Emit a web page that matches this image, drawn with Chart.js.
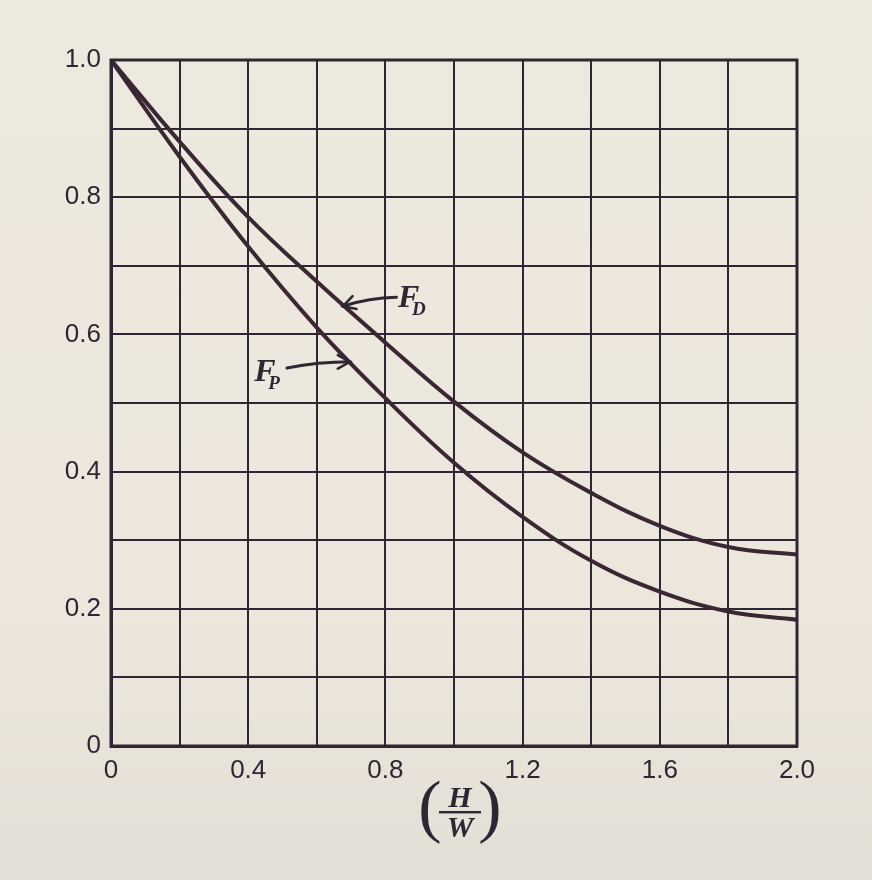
<!DOCTYPE html>
<html>
<head>
<meta charset="utf-8">
<script src="https://cdn.jsdelivr.net/npm/chart.js@4.4.0/dist/chart.umd.min.js"></script>
<style>
  html, body { margin: 0; padding: 0; }
  body { width: 872px; height: 880px; background: linear-gradient(180deg, #eee9df 0%, #ece6dc 70%, #e4dfd6 100%); overflow: hidden; }
  #wrap { position: relative; width: 872px; height: 880px; }
</style>
</head>
<body>
<div id="wrap"><canvas id="c" width="872" height="880"></canvas></div>
<script>
// ---- data ----
const hwRatio = [0, 0.2, 0.4, 0.6, 0.8, 1.0, 1.2, 1.4, 1.6, 1.8, 2.0];
const fD = [1.0, 0.881, 0.771, 0.677, 0.588, 0.502, 0.428, 0.369, 0.321, 0.290, 0.279];
const fP = [1.0, 0.859, 0.728, 0.610, 0.507, 0.413, 0.334, 0.270, 0.225, 0.196, 0.184];
const xTickLabels = ['0', '0.4', '0.8', '1.2', '1.6', '2.0'];
const yTickLabels = ['0', '0.2', '0.4', '0.6', '0.8', '1.0'];
const seriesNames = ['F_D', 'F_P'];

const INK = '#2f2634';
const CURVE = '#3a2732';

const toPts = (xs, ys) => xs.map((x, i) => ({ x: x, y: ys[i] }));

function fmtX(v) {
  const r = Math.round(v * 10) / 10;
  const idx = xTickLabels.indexOf(r === 0 ? '0' : r.toFixed(1));
  return idx >= 0 ? xTickLabels[idx] : '';
}
function fmtY(v) {
  const r = Math.round(v * 10) / 10;
  const idx = yTickLabels.indexOf(r === 0 ? '0' : r.toFixed(1));
  return idx >= 0 ? yTickLabels[idx] : '';
}

// annotation labels with arrows (data coordinates)
const annos = [
  { main: 'F', sub: 'D', lx: 0.837, ly: 0.640, tail: [0.832, 0.654], tip: [0.676, 0.641], bend: 4 },
  { main: 'F', sub: 'P', lx: 0.418, ly: 0.532, tail: [0.513, 0.551], tip: [0.697, 0.560], bend: 3 }
];

const decor = {
  id: 'decor',
  afterDatasetsDraw(chart) {
    const ctx = chart.ctx;
    const a = chart.chartArea;
    const xs = chart.scales.x, ys = chart.scales.y;
    ctx.save();
    // frame
    ctx.strokeStyle = INK;
    ctx.lineWidth = 3;
    ctx.strokeRect(a.left, a.top, a.right - a.left, a.bottom - a.top);

    // annotations
    annos.forEach(an => {
      const lx = xs.getPixelForValue(an.lx), ly = ys.getPixelForValue(an.ly);
      ctx.fillStyle = INK;
      ctx.textBaseline = 'alphabetic';
      ctx.textAlign = 'left';
      ctx.font = 'italic bold 32px "Liberation Serif"';
      ctx.fillText(an.main, lx, ly);
      ctx.font = 'italic bold 19px "Liberation Serif"';
      ctx.fillText(an.sub, lx + 14, ly + 8);

      const tx = xs.getPixelForValue(an.tail[0]), ty = ys.getPixelForValue(an.tail[1]);
      const px = xs.getPixelForValue(an.tip[0]), py = ys.getPixelForValue(an.tip[1]);
      const mx = (tx + px) / 2, my = (ty + py) / 2 - an.bend;
      ctx.strokeStyle = INK;
      ctx.lineWidth = 3;
      ctx.lineCap = 'round';
      ctx.beginPath();
      ctx.moveTo(tx, ty);
      ctx.quadraticCurveTo(mx, my, px, py);
      ctx.stroke();
      // arrowhead
      const ang = Math.atan2(py - my, px - mx);
      const L = 14, spread = 0.5;
      ctx.lineWidth = 2.5;
      ctx.beginPath();
      ctx.moveTo(px - L * Math.cos(ang - spread), py - L * Math.sin(ang - spread));
      ctx.lineTo(px, py);
      ctx.lineTo(px - L * Math.cos(ang + spread), py - L * Math.sin(ang + spread));
      ctx.stroke();
    });

    // x-axis title (H/W)
    const cx = xs.getPixelForValue(1.0) + 6;
    const barY = a.bottom + 66;
    ctx.fillStyle = INK;
    ctx.textAlign = 'center';
    ctx.textBaseline = 'alphabetic';
    ctx.font = 'italic bold 30px "Liberation Serif"';
    ctx.fillText('H', cx, barY - 5);
    ctx.fillText('W', cx, barY + 25);
    ctx.fillRect(cx - 21, barY - 1, 42, 2.4);
    ctx.textBaseline = 'middle';
    ctx.font = '70px "Liberation Serif"';
    ctx.fillText('(', cx - 30, barY - 1);
    ctx.fillText(')', cx + 30, barY - 1);
    ctx.restore();
  }
};

const ctx = document.getElementById('c').getContext('2d');
new Chart(ctx, {
  type: 'line',
  data: {
    datasets: [
      { label: seriesNames[0], data: toPts(hwRatio, fD), borderColor: CURVE, borderWidth: 4, pointRadius: 0, tension: 0.4, fill: false },
      { label: seriesNames[1], data: toPts(hwRatio, fP), borderColor: CURVE, borderWidth: 4, pointRadius: 0, tension: 0.4, fill: false }
    ]
  },
  options: {
    responsive: false,
    animation: false,
    devicePixelRatio: 1,
    layout: { padding: { left: 0, right: 75, top: 60, bottom: 0 } },
    plugins: { legend: { display: false }, tooltip: { enabled: false }, title: { display: false } },
    scales: {
      x: {
        type: 'linear', min: 0, max: 2.0,
        afterFit(s) { s.height = 134; },
        ticks: {
          stepSize: 0.2, autoSkip: false, maxRotation: 0, padding: 9,
          color: INK, font: { family: '"Liberation Sans"', size: 26 },
          callback: v => fmtX(v)
        },
        grid: { color: INK, lineWidth: 2, drawTicks: false },
        border: { display: true, color: INK, width: 3 }
      },
      y: {
        type: 'linear', min: 0, max: 1.0,
        afterFit(s) { s.width = 111; },
        ticks: {
          stepSize: 0.1, autoSkip: false, padding: 10,
          color: INK, font: { family: '"Liberation Sans"', size: 26 },
          callback: v => fmtY(v)
        },
        grid: { color: INK, lineWidth: 2, drawTicks: false },
        border: { display: true, color: INK, width: 3 }
      }
    }
  },
  plugins: [decor]
});
</script>
</body>
</html>
